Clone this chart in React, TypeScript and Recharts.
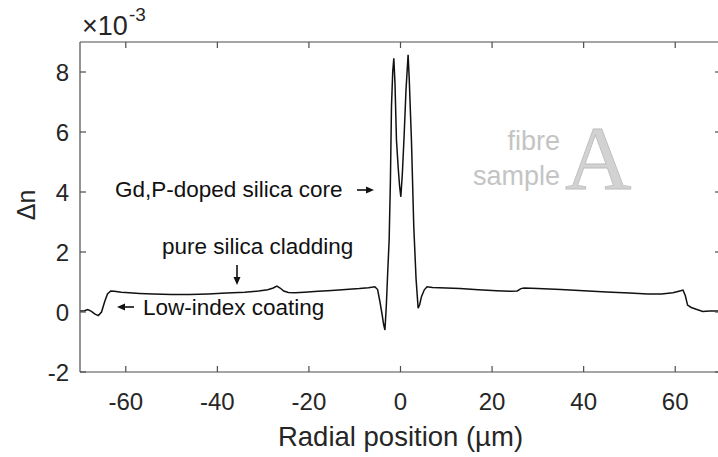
import React from "react";
import { LineChart, Line, XAxis, YAxis } from "recharts";

const positions = [
  -70, -69, -68.3, -67.5, -66.8, -66, -65.3, -64.6, -64, -63.3, -62.5, -61, -60, -57, -54, -50, -46, -42, -38, -34,
  -31, -29, -27.8, -27, -26.3, -25.5, -24.5, -23, -21, -18, -15, -12, -9, -7, -5.6, -5, -4.5, -4, -3.7, -3.4, -3.1,
  -2.8, -2.48, -2.2, -1.97, -1.7, -1.46, -1.2, -0.88, -0.5, -0.2, 0.07, 0.4, 0.8, 1.2, 1.66, 1.9, 2.39, 2.9, 3.4,
  3.85, 4.2, 4.58, 5.2, 5.8, 7, 10, 13, 17, 21, 24, 25.5, 26.3, 27, 30, 35, 40, 45, 50, 54, 57, 59.5, 61, 61.7, 62.2,
  62.7, 63.5, 64.6, 66, 67.5, 70,
];

// refractive index difference, in units of 1e-3
const deltaN = [
  0.03, 0.04, 0.08, 0.02, -0.06, -0.12, 0.0, 0.35, 0.6, 0.7, 0.69, 0.66, 0.65, 0.62, 0.6, 0.58, 0.58, 0.6, 0.63, 0.66,
  0.7, 0.74, 0.8, 0.86, 0.8, 0.7, 0.65, 0.64, 0.66, 0.69, 0.72, 0.75, 0.78, 0.81, 0.84, 0.75, 0.35, -0.1, -0.4, -0.6, 0.2,
  1.3, 2.4, 4.4, 6.84, 8.0, 8.46, 7.6, 5.73, 4.8, 4.2, 3.84, 4.6, 5.9, 7.4, 8.57, 7.8, 5.73, 2.84, 1.1,
  0.13, 0.25, 0.51, 0.74, 0.84, 0.82, 0.8, 0.78, 0.74, 0.71, 0.69, 0.7, 0.78, 0.8, 0.78, 0.75, 0.71, 0.67, 0.63, 0.6, 0.6, 0.64, 0.7, 0.73, 0.55,
  0.23, 0.15, 0.09, 0.02, 0.03, 0.03,
];

const xTicks = [-60, -40, -20, 0, 20, 40, 60];
const yTicks = [-2, 0, 2, 4, 6, 8];

const data = positions.map((x, i) => ({ x, dn: deltaN[i] }));

const FONT = '"Liberation Sans", Arial, Helvetica, sans-serif';
const AXIS = "#4d4d4d";
const TEXT = "#262626";
const INK = "#111";
const TL = 6;

const BottomTick = (p: any) => (
  <g>
    <line x1={p.x} x2={p.x} y1={p.y} y2={p.y - TL} stroke={AXIS} strokeWidth={1.2} />
    <text x={p.x} y={p.y + 38} textAnchor="middle" fontSize={24} fontFamily={FONT} fill={TEXT}>
      {p.payload.value}
    </text>
  </g>
);
const TopTick = (p: any) => (
  <line x1={p.x} x2={p.x} y1={p.y} y2={p.y + TL} stroke={AXIS} strokeWidth={1.2} />
);
const LeftTick = (p: any) => (
  <g>
    <line x1={p.x} x2={p.x + TL} y1={p.y} y2={p.y} stroke={AXIS} strokeWidth={1.2} />
    <text x={p.x - 11} y={p.y + 8.5} textAnchor="end" fontSize={24} fontFamily={FONT} fill={TEXT}>
      {p.payload.value}
    </text>
  </g>
);
const RightTick = (p: any) => (
  <line x1={p.x} x2={p.x - TL} y1={p.y} y2={p.y} stroke={AXIS} strokeWidth={1.2} />
);

// small annotation arrow: from (x1,y1) to tip (x2,y2)
const Arrow = ({ x1, y1, x2, y2 }: { x1: number; y1: number; x2: number; y2: number }) => {
  const dx = x2 - x1;
  const dy = y2 - y1;
  const len = Math.hypot(dx, dy);
  const ux = dx / len;
  const uy = dy / len;
  const hl = 8;
  const hw = 3.5;
  const bx = x2 - ux * hl;
  const by = y2 - uy * hl;
  return (
    <g>
      <line x1={x1} y1={y1} x2={bx} y2={by} stroke={INK} strokeWidth={1.6} />
      <polygon
        points={`${x2},${y2} ${bx - uy * hw},${by + ux * hw} ${bx + uy * hw},${by - ux * hw}`}
        fill={INK}
      />
    </g>
  );
};

export default function App() {
  return (
    <div style={{ position: "fixed", left: 0, top: 0, width: 718, height: 457, overflow: "hidden", background: "#fff" }}>
      <div style={{ position: "relative", width: 722, height: 457 }}>
        <LineChart width={722} height={457} data={data} margin={{ top: 41, right: 0, bottom: 0, left: 20 }}>
          <XAxis
            dataKey="x"
            type="number"
            domain={[-70, 70]}
            ticks={xTicks}
            allowDataOverflow
            height={85}
            tickSize={0}
            tickMargin={0}
            tickLine={false}
            tick={BottomTick}
            stroke={AXIS}
            strokeWidth={1.2}
          />
          <XAxis
            xAxisId="top"
            orientation="top"
            dataKey="x"
            type="number"
            domain={[-70, 70]}
            ticks={xTicks}
            allowDataOverflow
            height={1}
            tickSize={0}
            tickMargin={0}
            tickLine={false}
            tick={TopTick}
            stroke={AXIS}
            strokeWidth={1.2}
          />
          <YAxis
            type="number"
            domain={[-2, 9]}
            ticks={yTicks}
            allowDataOverflow
            width={60}
            tickSize={0}
            tickMargin={0}
            tickLine={false}
            tick={LeftTick}
            stroke={AXIS}
            strokeWidth={1.2}
          />
          <YAxis
            yAxisId="right"
            orientation="right"
            type="number"
            domain={[-2, 9]}
            ticks={yTicks}
            allowDataOverflow
            width={1}
            tickSize={0}
            tickMargin={0}
            tickLine={false}
            tick={RightTick}
            stroke={AXIS}
            strokeWidth={1.2}
          />
          <Line
            dataKey="dn"
            type="linear"
            stroke="#111"
            strokeWidth={1.5}
            dot={false}
            activeDot={false}
            isAnimationActive={false}
          />
        </LineChart>
        <svg
          width={722}
          height={457}
          style={{ position: "absolute", left: 0, top: 0, pointerEvents: "none" }}
          fontFamily={FONT}
        >
          <text x={82} y={35} fontSize={27} fill={TEXT}>
            ×10
          </text>
          <text x={129} y={21} fontSize={19} fill={TEXT}>
            -3
          </text>
          <text
            x={26}
            y={205}
            fontSize={25}
            fill={TEXT}
            textAnchor="middle"
            dominantBaseline="central"
            transform="rotate(-90 26 205)"
          >
            Δn
          </text>
          <text x={400.5} y={446} fontSize={27.5} fill={TEXT} textAnchor="middle">
            Radial position (µm)
          </text>
          <text x={115} y={197} fontSize={22.5} fill={INK}>
            Gd,P-doped silica core
          </text>
          <Arrow x1={357} y1={190} x2={374} y2={190} />
          <text x={162} y={254} fontSize={22.5} fill={INK}>
            pure silica cladding
          </text>
          <Arrow x1={237} y1={265} x2={237} y2={285} />
          <Arrow x1={134} y1={307} x2={117} y2={307} />
          <text x={143} y={315} fontSize={22.5} fill={INK}>
            Low-index coating
          </text>
          <text x={560} y={150} fontSize={27} fill="#c4c4c4" textAnchor="end">
            fibre
          </text>
          <text x={560} y={185} fontSize={27} fill="#c4c4c4" textAnchor="end">
            sample
          </text>
          <text
            x={565}
            y={189}
            fontSize={92}
            fill="#d2d2d2"
            stroke="#bdbdbd"
            strokeWidth={0.8}
            fontFamily='"Liberation Serif", "DejaVu Serif", serif'
          >
            A
          </text>
        </svg>
      </div>
    </div>
  );
}
